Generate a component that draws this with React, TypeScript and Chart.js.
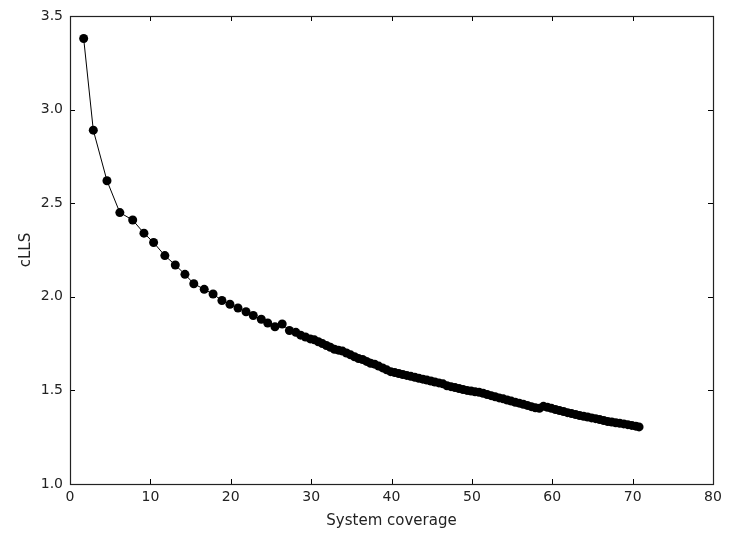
import React, { useEffect, useRef } from "react";
import { Chart, registerables } from "chart.js";

Chart.register(...registerables);

const coverage = [
  1.7, 2.9, 4.6, 6.2, 7.8, 9.2, 10.4, 11.8, 13.1, 14.3, 15.4, 16.7, 17.8, 18.9, 19.9,
  20.9, 21.9, 22.8, 23.8, 24.6, 25.5, 26.4, 27.3, 28.1, 28.7, 29.3, 29.9, 30.4, 30.9,
  31.4, 31.9, 32.4, 32.9, 33.4, 33.9, 34.4, 34.9, 35.4, 35.9, 36.4, 36.9, 37.4, 37.9,
  38.4, 38.9, 39.4, 39.9, 40.4, 40.9, 41.4, 41.9, 42.4, 42.9, 43.4, 43.9, 44.4, 44.9,
  45.4, 45.9, 46.4, 46.9, 47.4, 47.9, 48.4, 48.9, 49.4, 49.9, 50.4, 50.9, 51.4, 51.9,
  52.4, 52.9, 53.4, 53.9, 54.4, 54.9, 55.4, 55.9, 56.4, 56.9, 57.4, 57.9, 58.4, 58.9,
  59.4, 59.9, 60.4, 60.9, 61.4, 61.9, 62.4, 62.9, 63.4, 63.9, 64.4, 64.9, 65.4, 65.9,
  66.4, 66.9, 67.4, 67.9, 68.4, 68.9, 69.4, 69.9, 70.4, 70.8,
];

const clls = [
  3.38, 2.89, 2.62, 2.45, 2.41, 2.34, 2.29, 2.22, 2.17, 2.12, 2.07, 2.04, 2.015, 1.98, 1.96,
  1.94, 1.92, 1.9, 1.88, 1.86, 1.84, 1.855, 1.82, 1.81, 1.795, 1.785, 1.775, 1.77, 1.76,
  1.75, 1.74, 1.73, 1.72, 1.715, 1.71, 1.7, 1.69, 1.68, 1.67, 1.665, 1.655, 1.645, 1.64,
  1.63, 1.62, 1.61, 1.6, 1.595, 1.59, 1.585, 1.58, 1.575, 1.57, 1.565, 1.56, 1.555, 1.55,
  1.545, 1.54, 1.535, 1.525, 1.52, 1.515, 1.51, 1.505, 1.5, 1.497, 1.493, 1.49, 1.485, 1.478,
  1.472, 1.466, 1.46, 1.455, 1.449, 1.443, 1.437, 1.432, 1.426, 1.42, 1.413, 1.407, 1.404, 1.415,
  1.41, 1.404, 1.398, 1.392, 1.387, 1.381, 1.376, 1.371, 1.366, 1.362, 1.358, 1.353, 1.349, 1.344,
  1.339, 1.334, 1.331, 1.327, 1.324, 1.321, 1.317, 1.313, 1.309, 1.305,
];

const xTickValues = [0, 10, 20, 30, 40, 50, 60, 70, 80];
const yTickValues = [1.0, 1.5, 2.0, 2.5, 3.0, 3.5];

const xTitle = "System coverage";
const yTitle = "cLLS";

const frameAndTicks = {
  id: "frameAndTicks",
  afterDatasetsDraw(chart: any) {
    const { ctx, chartArea: a, scales } = chart;
    const xs = scales.x;
    const ys = scales.y;
    ctx.save();
    ctx.strokeStyle = "#000";
    ctx.lineWidth = 1;
    const L = 5;
    ctx.beginPath();
    xTickValues.forEach((v) => {
      const px = Math.round(xs.getPixelForValue(v)) + 0.5;
      ctx.moveTo(px, a.top);
      ctx.lineTo(px, a.top + L);
      ctx.moveTo(px, a.bottom);
      ctx.lineTo(px, a.bottom - L);
    });
    yTickValues.forEach((v) => {
      const py = Math.round(ys.getPixelForValue(v)) + 0.5;
      ctx.moveTo(a.left, py);
      ctx.lineTo(a.left + L, py);
      ctx.moveTo(a.right, py);
      ctx.lineTo(a.right - L, py);
    });
    ctx.stroke();
    ctx.strokeStyle = "#222";
    ctx.lineWidth = 1.2;
    ctx.strokeRect(
      Math.round(a.left) + 0.5,
      Math.round(a.top) + 0.5,
      Math.round(a.right - a.left),
      Math.round(a.bottom - a.top)
    );
    ctx.restore();
  },
};

export default function App() {
  const ref = useRef<HTMLCanvasElement | null>(null);

  useEffect(() => {
    if (!ref.current) return;
    const data = coverage.map((x, i) => ({ x, y: clls[i] }));
    const font = { family: "'DejaVu Sans', sans-serif", size: 14 };
    const chart = new Chart(ref.current, {
      type: "line",
      data: {
        datasets: [
          {
            data,
            borderColor: "#000",
            borderWidth: 1,
            backgroundColor: "#000",
            pointBackgroundColor: "#000",
            pointBorderWidth: 0,
            pointRadius: 4.5,
            fill: false,
            tension: 0,
          },
        ],
      },
      options: {
        responsive: false,
        animation: false,
        layout: { padding: { top: 16, right: 31, left: 0, bottom: 0 } },
        plugins: {
          legend: { display: false },
          tooltip: { enabled: false },
        },
        scales: {
          x: {
            type: "linear",
            min: 0,
            max: 80,
            afterBuildTicks: (s: any) => {
              s.ticks = xTickValues.map((value) => ({ value }));
            },
            afterFit: (s: any) => {
              s.height = 51;
            },
            grid: { display: false, drawTicks: false },
            border: { display: false },
            ticks: {
              color: "#222",
              font,
              padding: 5,
              maxRotation: 0,
              callback: (v: any) => String(v),
            },
            title: {
              display: true,
              text: xTitle,
              color: "#222",
              font: { family: "'DejaVu Sans', sans-serif", size: 15 },
              padding: { top: 0, bottom: 5 },
            },
          },
          y: {
            type: "linear",
            min: 1,
            max: 3.5,
            afterBuildTicks: (s: any) => {
              s.ticks = yTickValues.map((value) => ({ value }));
            },
            afterFit: (s: any) => {
              s.width = 70;
            },
            grid: { display: false, drawTicks: false },
            border: { display: false },
            ticks: {
              color: "#222",
              font,
              padding: 7,
              callback: (v: any) => Number(v).toFixed(1),
            },
            title: {
              display: true,
              text: yTitle,
              color: "#222",
              font: { family: "'DejaVu Sans', sans-serif", size: 15 },
              padding: { top: 17, bottom: 4 },
            },
          },
        },
      },
      plugins: [frameAndTicks],
    });
    return () => chart.destroy();
  }, []);

  return (
    <div style={{ position: "fixed", left: 0, top: 0, width: 744, height: 535, background: "#fff" }}>
      <canvas ref={ref} width={744} height={535} />
    </div>
  );
}
